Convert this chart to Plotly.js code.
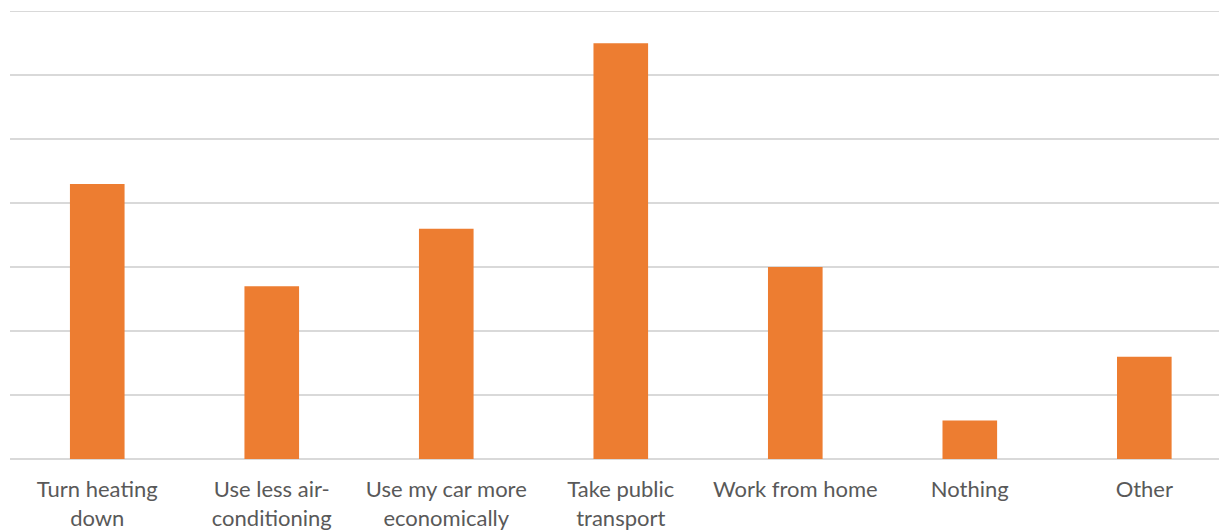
<!DOCTYPE html>
<html>
<head>
<meta charset="utf-8">
<script src="https://cdn.plot.ly/plotly-3.0.1.min.js"></script>
<style>
html,body{margin:0;padding:0;background:#fff;overflow:hidden;}
#chart{width:1219px;height:531px;}
</style>
</head>
<body>
<div id="chart"></div>
<script>
var categories = [
  "Turn heating<br>down",
  "Use less air-<br>conditioning",
  "Use my car more<br>economically",
  "Take public<br>transport",
  "Work from home",
  "Nothing",
  "Other"
];
var values = [21.5, 13.5, 18, 32.5, 15, 3, 8];
var gridValues = [5, 10, 15, 20, 25, 30, 35];

var trace = {
  type: "bar",
  x: categories.map(function(c, i){ return i; }),
  y: values,
  marker: {color: "#ED7D31", line: {width: 0}},
  hoverinfo: "skip"
};

var layout = {
  width: 1219,
  height: 531,
  margin: {l: 10, r: 0, t: 10.2, b: 71.5, pad: 0, autoexpand: false},
  paper_bgcolor: "#ffffff",
  plot_bgcolor: "#ffffff",
  bargap: 0.687,
  showlegend: false,
  font: {family: "Lato, 'Open Sans', sans-serif", size: 22, color: "#595959"},
  xaxis: {
    range: [-0.5, 6.428],
    tickmode: "array",
    tickvals: categories.map(function(c, i){ return i; }),
    ticktext: categories,
    showgrid: false,
    zeroline: false,
    showline: false,
    ticks: "",
    ticklen: 0,
    ticklabelstandoff: 15,
    automargin: false,
    fixedrange: true,
    tickfont: {family: "Lato, 'Open Sans', sans-serif", size: 22, color: "#595959"}
  },
  yaxis: {
    range: [0, 35.1],
    tickmode: "array",
    tickvals: gridValues,
    showticklabels: false,
    showgrid: true,
    gridcolor: "#D9D9D9",
    gridwidth: 1.5,
    zeroline: true,
    zerolinecolor: "#D9D9D9",
    zerolinewidth: 1.5,
    showline: false,
    ticks: "",
    automargin: false,
    fixedrange: true
  }
};

Plotly.newPlot("chart", [trace], layout, {displayModeBar: false, staticPlot: true});
</script>
</body>
</html>
